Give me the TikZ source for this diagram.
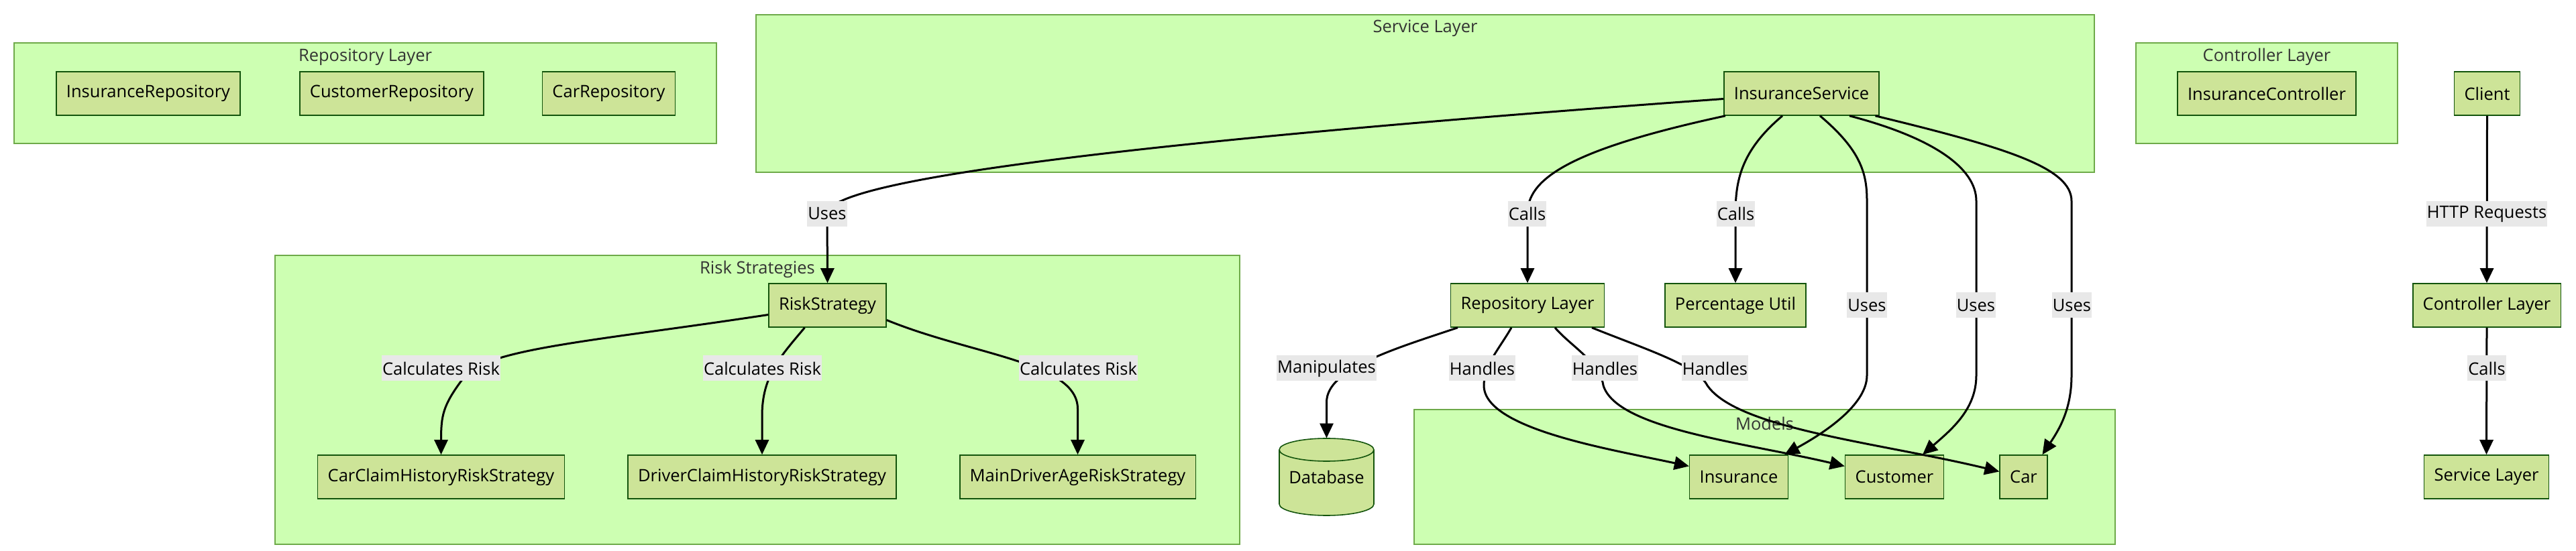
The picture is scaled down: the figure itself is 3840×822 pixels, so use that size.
\documentclass[tikz,border=0pt]{standalone}
\usepackage{fontspec}
\setmainfont{Open Sans}
\usetikzlibrary{arrows.meta}
\definecolor{layerfill}{HTML}{CDFFB2}
\definecolor{layerline}{HTML}{6EAA49}
\definecolor{compfill}{HTML}{CDE498}
\definecolor{compline}{HTML}{13540C}
\definecolor{labelfill}{HTML}{E8E8E8}
\definecolor{titletext}{HTML}{333333}
\tikzstyle{layerbox}=[draw=layerline,fill=layerfill,line width=0.8pt]
\tikzstyle{layertitle}=[text=titletext,inner sep=0pt]
\tikzstyle{component}=[draw=compline,fill=compfill,line width=0.8pt,minimum height=32.5pt,inner xsep=7.5pt]
\tikzstyle{relation}=[line width=1.5pt,->,>={Triangle[length=11pt,width=10pt]}]
\tikzstyle{relationlabel}=[fill=labelfill,inner xsep=0.5pt,inner ysep=0pt,minimum height=19pt]
\newcommand{\drawlayer}[5]{% Syntax: {corner}{corner}{title position}{title}{name}
  \draw[layerbox] (#1) rectangle (#2);
  \node[layertitle] (#5) at (#3) {#4};
}

\begin{document}
\begin{tikzpicture}[x=0.5pt,y=-0.5pt,font=\fontsize{12.75pt}{15pt}\selectfont]
\useasboundingbox (0,0) rectangle (3840,822);
% layers
\drawlayer{21,64}{1068,214}{544.5,85}{Repository Layer}{repoLayer}
\drawlayer{1127,22}{3122,257}{2124.5,42}{Service Layer}{serviceLayer}
\drawlayer{3184,64}{3574,214}{3379,85}{Controller Layer}{controllerLayer}
\drawlayer{410,381}{1848,812}{1129,402}{Risk Strategies}{riskLayer}
\drawlayer{2108,611}{3153,812}{2630.5,632}{Models}{modelLayer}

% components
\node[component] (insRepo) at (221,139.5) {InsuranceRepository};
\node[component] (custRepo) at (584,139.5) {CustomerRepository};
\node[component] (carRepo) at (907.5,139.5) {CarRepository};
\node[component] (insService) at (2685.5,139.5) {InsuranceService};
\node[component] (insController) at (3379,139.5) {InsuranceController};
\node[component] (client) at (3707.5,139.5) {Client};
\node[component] (riskStrategy) at (1233.5,455.5) {RiskStrategy};
\node[component] (carClaim) at (657.5,711.5) {CarClaimHistoryRiskStrategy};
\node[component] (driverClaim) at (1136,711.5) {DriverClaimHistoryRiskStrategy};
\node[component] (mainDriverAge) at (1606.5,711.5) {MainDriverAgeRiskStrategy};
\node[component] (repoNode) at (2277,455.5) {Repository Layer};
\node[component] (percentUtil) at (2587,455.5) {Percentage Util};
\node[component] (ctrlNode) at (3707,455.5) {Controller Layer};
\node[component] (serviceNode) at (3706.5,711.5) {Service Layer};
\node[component] (insModel) at (2592,711.5) {Insurance};
\node[component] (customerModel) at (2824,711.5) {Customer};
\node[component] (carModel) at (3016.5,711.5) {Car};

% database cylinder
\coordinate (dbc) at (1977.5,711.5);
\draw[draw=compline,fill=compfill,line width=0.8pt] ([shift={(-35.25pt,20.25pt)}]dbc) -- ([shift={(-35.25pt,-20.25pt)}]dbc) arc[start angle=180,end angle=360,x radius=35.25pt,y radius=8.5pt] -- ([shift={(35.25pt,20.25pt)}]dbc) arc[start angle=0,end angle=180,x radius=35.25pt,y radius=8.5pt] -- cycle;
\draw[draw=compline,line width=0.8pt] ([shift={(-35.25pt,20.25pt)}]dbc) arc[start angle=180,end angle=360,x radius=35.25pt,y radius=8.5pt];
\node[inner sep=0pt,minimum width=70.5pt,minimum height=57.5pt] (db) at (dbc) {Database};

% service layer relations
\draw[relation] ([yshift=-4pt]insService.west) .. controls (1500,225) and (1233,280) .. (1233,319) -- (riskStrategy.north);
\draw[relation] ([xshift=-56.75pt]insService.south) .. controls (2330,225) and (2277,270) .. (2277,319) -- (repoNode.north);
\draw[relation] ([xshift=-14.25pt]insService.south) .. controls (2595,225) and (2587,270) .. (2587,319) -- (percentUtil.north);
\draw[relation] ([xshift=13.75pt]insService.south) .. controls (2775,225) and (2783,260) .. (2783,300) -- (2783,560) .. controls (2783,600) and (2730,640) .. ([xshift=-3pt]insModel.north east);
\draw[relation] ([xshift=35.75pt]insService.south) .. controls (2880,205) and (2946,250) .. (2946,300) -- (2946,560) .. controls (2946,610) and (2910,640) .. ([xshift=21pt]customerModel.north);
\draw[relation] ([xshift=55pt]insService.south) .. controls (2990,220) and (3088,250) .. (3088,300) -- (3088,560) .. controls (3088,610) and (3070,640) .. ([xshift=14pt]carModel.north);

% risk strategies
\draw[relation] ([yshift=-7pt]riskStrategy.west) .. controls (880,510) and (720,520) .. (690,565) .. controls (660,605) and (657.5,620) .. (carClaim.north);
\draw[relation] ([xshift=-17pt]riskStrategy.south) .. controls (1165,530) and (1136,560) .. (1136,620) -- (driverClaim.north);
\draw[relation] ([yshift=-11pt]riskStrategy.east) .. controls (1450,530) and (1606.5,540) .. (1606.5,610) -- (mainDriverAge.north);

% repository layer
\draw[relation] ([xshift=-52pt]repoNode.south) .. controls (2080,520) and (1977.5,550) .. (1977.5,600) -- (db.north);
\draw[relation] ([xshift=-12pt]repoNode.south) .. controls (2235,520) and (2212,545) .. (2212,575) .. controls (2212,640) and (2400,670) .. ([yshift=8pt]insModel.west);
\draw[relation] ([xshift=20.5pt]repoNode.south) .. controls (2340,515) and (2385,540) .. (2390,575) .. controls (2410,640) and (2600,660) .. ([yshift=8pt]customerModel.west);
\draw[relation] ([xshift=48pt]repoNode.south) .. controls (2450,520) and (2530,545) .. (2545,575) .. controls (2590,640) and (2800,660) .. ([yshift=4pt]carModel.west);

% controller chain
\draw[relation] (client.south) -- (ctrlNode.north);
\draw[relation] (ctrlNode.south) -- (serviceNode.north);

% labels on top
\node[relationlabel] (lblUsesRisk) at (1233,319) {Uses};
\node[relationlabel] (lblCallsRepo) at (2276.5,319) {Calls};
\node[relationlabel] (lblCallsUtil) at (2587.5,319) {Calls};
\node[relationlabel] (lblHttp) at (3707,319) {HTTP Requests};
\node[relationlabel] (lblUsesIns) at (2783,455.5) {Uses};
\node[relationlabel] (lblUsesCus) at (2945.5,455.5) {Uses};
\node[relationlabel] (lblUsesCar) at (3088.5,455.5) {Uses};
\foreach \x/\n in {657.5/calcCar,1136.5/calcDriver,1607.5/calcAge}
  \node[relationlabel] (\n) at (\x,549.5) {Calculates Risk};
\node[relationlabel] (lblManip) at (1977.5,549.5) {Manipulates};
\foreach \x/\n in {2209.5/handIns,2392.5/handCus,2556.5/handCar}
  \node[relationlabel] (\n) at (\x,549.5) {Handles};
\node[relationlabel] (lblCallsSrv) at (3707,549.5) {Calls};
%\draw[red] (0,0) grid[step=100] (3840,822); % use this to debug
\end{tikzpicture}
\end{document}
